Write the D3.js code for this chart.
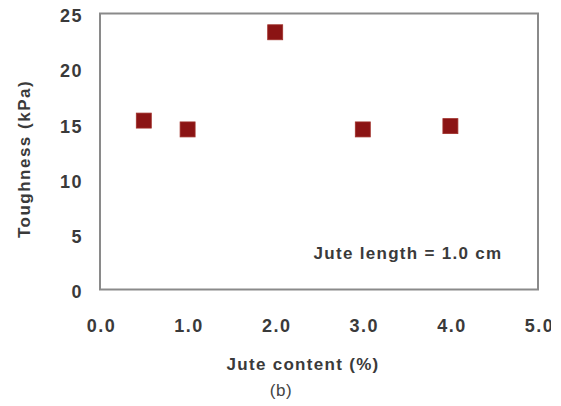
<!DOCTYPE html>
<html><head><meta charset="utf-8">
<script src="https://cdn.jsdelivr.net/npm/d3@7"></script>
<style>
html,body{margin:0;padding:0;background:#fff;}
svg{display:block;}
text{font-family:"Liberation Sans",Arial,sans-serif;}
</style></head>
<body>
<svg id="chart" width="561" height="406"></svg>
<script>
const juteContent = [0.5, 1.0, 2.0, 3.0, 4.0];
const toughness = [15.3, 14.5, 23.3, 14.5, 14.8];
const xTicks = [0, 1, 2, 3, 4, 5];
const yTicks = [0, 5, 10, 15, 20, 25];

const svg = d3.select("#chart");
const m = {left:100, right:538, top:13.5, bottom:289.5};
const x = d3.scaleLinear().domain([0,5]).range([m.left, m.right]);
const y = d3.scaleLinear().domain([0,25]).range([m.bottom, m.top]);

svg.append("defs").append("clipPath").attr("id","clip")
  .append("rect").attr("x",0).attr("y",0).attr("width",551).attr("height",406);

const g = svg.append("g").attr("clip-path","url(#clip)");

// frame
g.append("rect").attr("x",m.left).attr("y",m.top)
  .attr("width",m.right-m.left).attr("height",m.bottom-m.top)
  .attr("fill","none").attr("stroke","#8a8a8a").attr("stroke-width",2);

const lab = {fill:"#3a3a3a", "font-weight":"bold", "font-size":"17px", "letter-spacing":"1.3px"};
function st(sel, o){ for (const k in o) sel.attr(k, o[k]); return sel; }

// y ticks
const yAxis = d3.axisLeft(y).tickValues(yTicks).tickSize(0).tickPadding(17).tickFormat(d3.format("d"));
const ya = g.append("g").attr("transform",`translate(${m.left},2.5)`).call(yAxis);
ya.select(".domain").remove();
ya.selectAll("text").attr("font-family",null).attr("font-size",null).each(function(){ st(d3.select(this), lab); })
  .attr("font-size","18px").attr("letter-spacing","1.5px");

// x ticks
const xAxis = d3.axisBottom(x).tickValues(xTicks).tickSize(0).tickPadding(30).tickFormat(d3.format(".1f"));
const xa = g.append("g").attr("transform",`translate(1,${m.bottom})`).call(xAxis);
xa.select(".domain").remove();
xa.selectAll("text").attr("font-family",null).attr("font-size",null).each(function(){ st(d3.select(this), lab); })
  .attr("font-size","18px").attr("letter-spacing","1.5px");

// points
const s = 15;
g.selectAll("rect.pt").data(juteContent.map((d,i)=>({x:d,y:toughness[i]})))
  .join("rect").attr("class","pt")
  .attr("x",d=>x(d.x)-s/2).attr("y",d=>y(d.y)-s/2)
  .attr("width",s).attr("height",s)
  .attr("fill","#8b1414").attr("stroke","#a0302a").attr("stroke-width",0.8);

// annotation
st(g.append("text").attr("x",408).attr("y",259).attr("text-anchor","middle").text("Jute length = 1.0 cm"), lab);

// axis titles
st(g.append("text").attr("x",303).attr("y",370).attr("text-anchor","middle").text("Jute content (%)"), lab);
st(g.append("text").attr("transform","translate(30,159) rotate(-90)").attr("text-anchor","middle").text("Toughness (kPa)"), lab)
  .attr("letter-spacing","1.5px");

g.append("text").attr("x",281).attr("y",396).attr("text-anchor","middle")
  .attr("fill","#444").attr("font-size","17px").attr("letter-spacing","0.5px").text("(b)");
</script>
</body></html>
